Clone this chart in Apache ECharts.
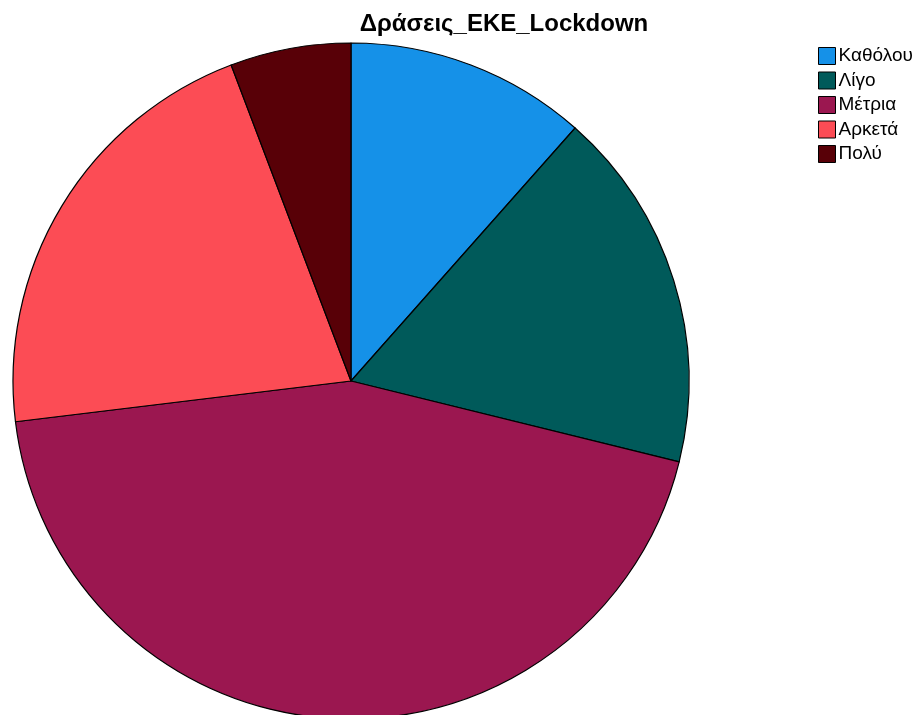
<!DOCTYPE html>
<html>
<head>
<meta charset="utf-8">
<script src="https://cdn.jsdelivr.net/npm/echarts@6/dist/echarts.min.js"></script>
<style>
  html, body { margin: 0; padding: 0; background: #ffffff; }
  #chart { width: 920px; height: 715px; }
</style>
</head>
<body>
<div id="chart"></div>
<script>
// Response categories and counts
const categories = ['Καθόλου', 'Λίγο', 'Μέτρια', 'Αρκετά', 'Πολύ'];
const counts = [6, 9, 23, 11, 3];
const colors = ['#1591e8', '#005a5a', '#9b1750', '#fc4c55', '#580007'];
const titleText = 'Δράσεις_ΕΚΕ_Lockdown';

const chart = echarts.init(document.getElementById('chart'));
chart.setOption({
  animation: false,
  backgroundColor: '#ffffff',
  title: {
    text: titleText,
    left: 504,
    textAlign: 'center',
    top: 12,
    padding: 0,
    textStyle: { fontFamily: 'Liberation Sans, Arial, sans-serif', fontSize: 24, fontWeight: 'bold', color: '#000', lineHeight: 24 }
  },
  legend: {
    orient: 'vertical',
    left: 818,
    top: 46,
    padding: 0,
    itemWidth: 17,
    itemHeight: 17,
    itemGap: 4.5,
    icon: 'rect',
    data: categories,
    itemStyle: { borderColor: '#000', borderWidth: 1 },
    textStyle: { fontFamily: 'Liberation Sans, Arial, sans-serif', fontSize: 19, lineHeight: 20, color: '#000', padding: [0, 0, 0, -2] }
  },
  series: [{
    type: 'pie',
    center: [351, 381],
    radius: 338,
    startAngle: 90,
    clockwise: true,
    label: { show: false },
    labelLine: { show: false },
    emphasis: { disabled: true },
    itemStyle: { borderColor: '#000', borderWidth: 1.2 },
    data: categories.map((c, i) => ({ name: c, value: counts[i], itemStyle: { color: colors[i] } }))
  }]
});
</script>
</body>
</html>
